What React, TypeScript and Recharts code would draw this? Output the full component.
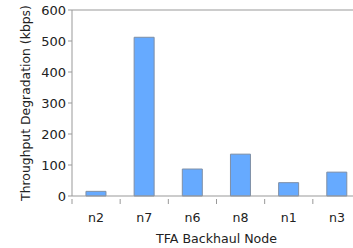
import React from "react";
import { BarChart, Bar, XAxis, YAxis, ReferenceLine } from "recharts";

const nodes = ["n2", "n7", "n6", "n8", "n1", "n3"];
const degradation = [15, 512, 87, 135, 43, 77];
const yTicks = [0, 100, 200, 300, 400, 500, 600];

const data = nodes.map((n, i) => ({ node: n, value: degradation[i] }));

const FONT = "'DejaVu Sans', Verdana, sans-serif";

const XTick = (props: any) => {
  const { x, y, payload } = props;
  const half = payload && typeof payload.offset === "number" && payload.offset > 0 ? payload.offset : 24;
  return (
    <g>
      <line x1={x - half} x2={x - half} y1={y - 5} y2={y} stroke="#999" />
      <text x={x} y={y + 18} textAnchor="middle" fill="#222" fontSize={12.6} fontFamily={FONT}>
        {payload.value}
      </text>
    </g>
  );
};

const YLabel = (props: any) => {
  const vb = props.viewBox || {};
  const cy = (vb.y ?? 10) + (vb.height ?? 186) / 2;
  const cx = 25;
  return (
    <text x={cx} y={cy} transform={`rotate(-90, ${cx}, ${cy})`} textAnchor="middle" dominantBaseline="central" fill="#222" fontSize={12.4} fontFamily={FONT}>
      Throughput Degradation (kbps)
    </text>
  );
};

export default function App() {
  return (
    <div style={{ position: "absolute", left: 0, top: 0, width: 353, height: 248, overflow: "hidden", background: "#fff" }}>
      <BarChart
        width={370}
        height={248}
        data={data}
        margin={{ top: 10, right: 9, left: 0, bottom: 0 }}
        barCategoryGap="29%"
      >
        <XAxis
          dataKey="node"
          height={52}
          stroke="#999"
          tickLine={false}
          tick={<XTick />}
          interval={0}
          label={{ value: "TFA Backhaul Node", position: "insideBottom", offset: 5, fill: "#222", fontSize: 12.6, fontFamily: FONT }}
        />
        <YAxis
          width={72}
          domain={[0, 600]}
          ticks={yTicks}
          stroke="#999"
          tickSize={4}
          tick={{ fill: "#222", fontSize: 13, fontFamily: FONT }}
          label={<YLabel />}
        />
        <ReferenceLine y={600} stroke="#999" />
        <Bar dataKey="value" fill="#66aaff" stroke="#7f8fa6" strokeWidth={1} isAnimationActive={false} />
      </BarChart>
    </div>
  );
}
